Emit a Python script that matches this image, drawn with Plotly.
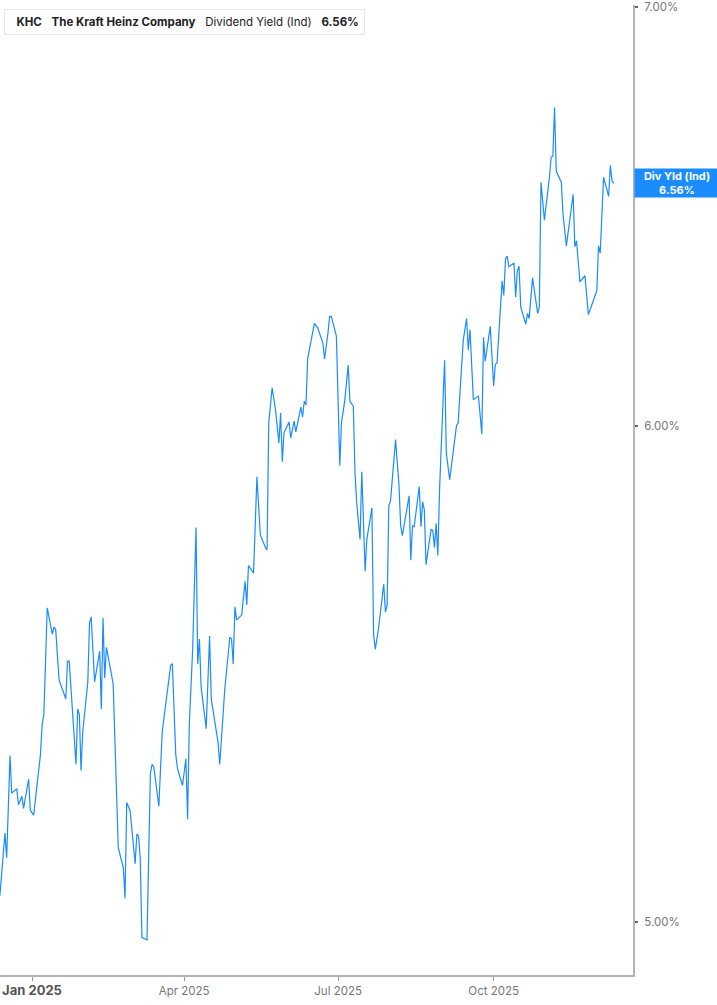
import math
import plotly.graph_objects as go

line_color = '#1a8cff'
axis_color = '#b4b4b4'

dates = [
    '2024-12-13', '2024-12-16', '2024-12-17', '2024-12-19', '2024-12-20', '2024-12-23',
    '2024-12-24', '2024-12-26', '2024-12-27', '2024-12-30', '2024-12-31',
    '2025-01-02', '2025-01-04', '2025-01-06', '2025-01-07', '2025-01-08', '2025-01-10',
    '2025-01-13', '2025-01-14', '2025-01-15', '2025-01-17', '2025-01-21', '2025-01-22',
    '2025-01-23', '2025-01-27', '2025-01-28', '2025-01-29', '2025-01-30', '2025-01-31',
    '2025-02-03', '2025-02-04', '2025-02-05', '2025-02-07', '2025-02-10', '2025-02-11',
    '2025-02-12', '2025-02-13', '2025-02-14', '2025-02-18', '2025-02-21', '2025-02-24',
    '2025-02-25', '2025-02-26', '2025-02-28', '2025-03-03', '2025-03-04', '2025-03-05',
    '2025-03-06', '2025-03-07', '2025-03-10', '2025-03-12', '2025-03-13', '2025-03-14',
    '2025-03-17', '2025-03-19', '2025-03-22', '2025-03-24', '2025-03-25', '2025-03-27',
    '2025-03-28', '2025-03-31', '2025-04-02', '2025-04-03', '2025-04-04', '2025-04-06',
    '2025-04-08', '2025-04-09', '2025-04-10', '2025-04-11', '2025-04-14', '2025-04-16',
    '2025-04-17', '2025-04-21', '2025-04-22', '2025-04-24', '2025-04-25', '2025-04-28',
    '2025-04-29', '2025-04-30', '2025-05-01', '2025-05-02', '2025-05-05', '2025-05-07',
    '2025-05-08', '2025-05-09', '2025-05-12', '2025-05-14', '2025-05-16', '2025-05-19',
    '2025-05-20', '2025-05-21', '2025-05-23', '2025-05-25', '2025-05-27', '2025-05-28',
    '2025-05-29', '2025-05-30', '2025-06-02', '2025-06-03', '2025-06-05', '2025-06-06',
    '2025-06-09', '2025-06-10', '2025-06-11', '2025-06-12', '2025-06-13', '2025-06-17',
    '2025-06-19', '2025-06-22', '2025-06-23', '2025-06-25', '2025-06-26', '2025-06-27',
    '2025-06-30', '2025-07-02', '2025-07-03', '2025-07-05', '2025-07-07', '2025-07-08',
    '2025-07-10', '2025-07-11', '2025-07-12', '2025-07-14', '2025-07-15', '2025-07-17',
    '2025-07-18', '2025-07-21', '2025-07-22', '2025-07-23', '2025-07-25', '2025-07-28',
    '2025-07-29', '2025-07-30', '2025-07-31', '2025-08-01', '2025-08-04', '2025-08-06',
    '2025-08-07', '2025-08-08', '2025-08-11', '2025-08-12', '2025-08-13', '2025-08-14',
    '2025-08-15', '2025-08-18', '2025-08-19', '2025-08-20', '2025-08-21', '2025-08-22',
    '2025-08-25', '2025-08-26', '2025-08-27', '2025-08-28', '2025-08-29', '2025-08-30',
    '2025-09-02', '2025-09-03', '2025-09-05', '2025-09-07', '2025-09-09', '2025-09-10',
    '2025-09-12', '2025-09-13', '2025-09-15', '2025-09-16', '2025-09-17', '2025-09-19',
    '2025-09-22', '2025-09-24', '2025-09-25', '2025-09-26', '2025-09-29', '2025-10-01',
    '2025-10-02', '2025-10-03', '2025-10-06', '2025-10-07', '2025-10-08', '2025-10-09',
    '2025-10-10', '2025-10-13', '2025-10-14', '2025-10-15', '2025-10-16', '2025-10-17',
    '2025-10-20', '2025-10-21', '2025-10-22', '2025-10-24', '2025-10-27', '2025-10-28',
    '2025-10-29', '2025-10-31', '2025-11-03', '2025-11-04', '2025-11-05', '2025-11-06',
    '2025-11-07', '2025-11-10', '2025-11-11', '2025-11-13', '2025-11-17', '2025-11-18',
    '2025-11-19', '2025-11-21', '2025-11-24', '2025-11-26', '2025-12-01', '2025-12-02',
    '2025-12-03', '2025-12-05', '2025-12-08', '2025-12-09', '2025-12-10', '2025-12-11',
]

div_yield = [
    5.048, 5.166, 5.119, 5.315, 5.242, 5.251,
    5.220, 5.236, 5.213, 5.269, 5.209,
    5.200, 5.259, 5.317, 5.376, 5.396, 5.612,
    5.558, 5.572, 5.568, 5.465, 5.427, 5.503,
    5.503, 5.298, 5.407, 5.396, 5.286, 5.362,
    5.461, 5.581, 5.593, 5.461, 5.523, 5.407,
    5.591, 5.469, 5.531, 5.457, 5.138, 5.100,
    5.043, 5.224, 5.209, 5.108, 5.164, 5.160,
    5.119, 4.971, 4.967, 5.280, 5.298, 5.294,
    5.217, 5.362, 5.437, 5.495, 5.497, 5.317,
    5.290, 5.257, 5.309, 5.192, 5.376, 5.527,
    5.780, 5.497, 5.548, 5.451, 5.368, 5.554,
    5.427, 5.341, 5.298, 5.396, 5.447, 5.552,
    5.548, 5.497, 5.614, 5.587, 5.597, 5.667,
    5.618, 5.700, 5.684, 5.889, 5.765, 5.738,
    5.733, 6.007, 6.085, 6.036, 5.963, 6.029,
    5.922, 5.985, 6.009, 5.974, 6.011, 5.987,
    6.042, 6.020, 6.055, 6.047, 6.150, 6.231,
    6.220, 6.186, 6.150, 6.208, 6.247, 6.247,
    6.202, 5.913, 6.007, 6.058, 6.136, 6.055,
    6.044, 5.898, 5.833, 5.755, 5.900, 5.688,
    5.755, 5.822, 5.556, 5.527, 5.572, 5.661,
    5.603, 5.618, 5.827, 5.837, 5.970, 5.872,
    5.784, 5.763, 5.822, 5.848, 5.711, 5.784,
    5.782, 5.868, 5.782, 5.835, 5.818, 5.702,
    5.776, 5.774, 5.738, 5.789, 5.721, 5.861,
    6.147, 5.941, 5.883, 5.941, 6.000, 6.007,
    6.118, 6.192, 6.242, 6.170, 6.217, 6.058,
    6.067, 5.982, 6.199, 6.145, 6.224, 6.089,
    6.138, 6.141, 6.329, 6.295, 6.380, 6.387,
    6.362, 6.371, 6.292, 6.352, 6.364, 6.269,
    6.229, 6.254, 6.242, 6.336, 6.254, 6.269,
    6.563, 6.472, 6.575, 6.624, 6.626, 6.746,
    6.590, 6.563, 6.486, 6.411, 6.534, 6.409,
    6.423, 6.327, 6.341, 6.251, 6.306, 6.411,
    6.394, 6.575, 6.529, 6.604, 6.566, 6.560,
]

x_tick_vals = ['2025-01-01', '2025-04-01', '2025-07-01', '2025-10-01']
x_tick_text = ['<span style="font-size:13px;color:#555"><b>Jan 2025</b></span>',
               'Apr 2025', 'Jul 2025', 'Oct 2025']
y_tick_vals = [5, 6, 7]
y_tick_text = ['5.00%', '6.00%', '7.00%']

last_value = div_yield[-1]

fig = go.Figure(go.Scatter(x=dates, y=div_yield, mode='lines',
                           line=dict(color=line_color, width=1.2),
                           hoverinfo='skip'))

fig.update_layout(
    width=717, height=1005,
    margin=dict(l=0, r=84, t=0, b=30),
    paper_bgcolor='white', plot_bgcolor='white',
    showlegend=False,
    font=dict(family='Inter, Roboto, sans-serif', size=11, color='#777'),
    xaxis=dict(
        type='date',
        range=['2024-12-13 01:40', '2025-12-22 09:36'],
        tickvals=x_tick_vals, ticktext=x_tick_text,
        showgrid=False, zeroline=False,
        showline=True, linecolor=axis_color, linewidth=2,
        ticks='outside', ticklen=4, tickcolor='#999', tickwidth=1,
        tickfont=dict(size=11.5, color='#777'),
    ),
    yaxis=dict(
        type='log', side='right',
        range=[math.log10(4.903), math.log10(7.005)],
        tickvals=y_tick_vals, ticktext=y_tick_text,
        showgrid=False, zeroline=False,
        showline=True, linecolor=axis_color, linewidth=2,
        ticks='outside', ticklen=3, tickcolor='#666', tickwidth=2,
        tickfont=dict(size=11.5, color='#777'),
        ticklabelstandoff=4, ticklabeloverflow='allow',
    ),
)

# header box top-left
fig.add_annotation(
    xref='paper', yref='paper', x=0, y=1, xanchor='left', yanchor='top',
    xshift=4, yshift=-4,
    text='  <b>KHC</b>   <b>The Kraft Heinz Company</b>   Dividend Yield (Ind)   <b>6.56%</b>',
    showarrow=False, align='left',
    font=dict(family='Inter, Roboto, sans-serif', size=11.5, color='#222'),
    bgcolor='white', bordercolor='#e6e6e6', borderwidth=1, borderpad=5,
)
fig.add_shape(
    type='rect', xref='paper', yref='paper',
    xsizemode='pixel', ysizemode='pixel', xanchor=0, yanchor=1,
    x0=4, x1=7, y0=-5, y1=-29,
    fillcolor=line_color, line=dict(width=0),
)

# last value label on the right axis
fig.add_annotation(
    xref='paper', yref='y', x=1, y=math.log10(last_value),
    xanchor='left', yanchor='middle', xshift=1,
    text='<b>Div Yld (Ind)<br>%.2f%%</b>' % last_value,
    showarrow=False, align='center', width=82, height=26,
    font=dict(family='Inter, Roboto, sans-serif', size=11, color='white'),
    bgcolor=line_color, borderpad=1,
)

fig.write_html('out.html', config={'displayModeBar': False},
               post_script="document.body.style.margin='0';")
